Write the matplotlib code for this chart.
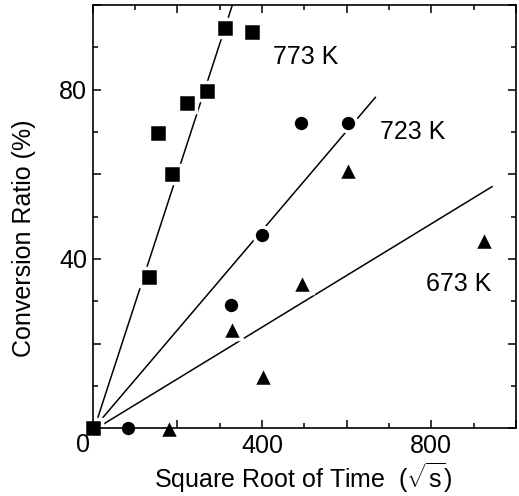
import numpy as np
import matplotlib
matplotlib.use("Agg")
import matplotlib.pyplot as plt
from matplotlib.ticker import MultipleLocator

plt.rcParams['font.family'] = ['Liberation Sans', 'DejaVu Sans']
plt.rcParams['mathtext.fontset'] = 'custom'
plt.rcParams['mathtext.rm'] = 'Liberation Sans'
plt.rcParams['mathtext.it'] = 'Liberation Sans'
plt.rcParams['mathtext.bf'] = 'Liberation Sans'

# ---- data (sqrt of time in sqrt(s), conversion ratio in %) ----
x_773 = [0, 132, 155, 188, 222, 270, 313, 376]
y_773 = [0, 35.8, 69.7, 60.1, 76.8, 79.8, 94.5, 93.7]

x_723 = [84, 327, 399, 492, 603]
y_723 = [0, 29.1, 45.7, 72.2, 72.2]

x_673 = [180, 328, 403, 494, 604, 925]
y_673 = [0, 23.5, 12.4, 34.3, 61.0, 44.6]

# fitted straight lines: slope, intercept, x range
fit_slope = [0.3067, 0.1175, 0.0611]
fit_icept = [-1.2, -0.29, -0.56]
fit_xstart = [0, 0, 0]
fit_xend = [340, 669, 945]

temps = ["773 K", "723 K", "673 K"]
temp_label_x = [504, 755, 864]
temp_label_y = [87.7, 70.0, 34.1]

xtick_labels = [400, 800]
ytick_labels = [40, 80]

FS = 18

fig = plt.figure(figsize=(5.19, 4.96), dpi=100)
ax = fig.add_axes([0.1786, 0.1365, 0.8156, 0.8534])
ax.set_xlim(0, 1000)
ax.set_ylim(0, 100)

# lines
for s, b, x0, x1 in zip(fit_slope, fit_icept, fit_xstart, fit_xend):
    xs = np.array([x0, x1], dtype=float)
    ax.plot(xs, s * xs + b, color='black', lw=1.1, zorder=1.5, solid_capstyle='butt')

E = 2.5
common = dict(linestyle='none', color='black', markeredgecolor='white',
              markeredgewidth=E, clip_on=False, zorder=2)
ax.plot(x_773, y_773, marker='s', markersize=12.6, **common)
ax.plot(x_723, y_723, marker='o', markersize=12.1, **common)
ax.plot(x_673, y_673, marker='^', markersize=13.7, **common)

for t, tx, ty in zip(temps, temp_label_x, temp_label_y):
    ax.text(tx, ty, t, ha='center', va='center', fontsize=FS)

# ticks
ax.xaxis.set_major_locator(MultipleLocator(200))
ax.xaxis.set_minor_locator(MultipleLocator(100))
ax.yaxis.set_major_locator(MultipleLocator(20))
ax.yaxis.set_minor_locator(MultipleLocator(10))
ax.xaxis.set_major_formatter(plt.FuncFormatter(lambda v, p: f"{int(v)}" if int(round(v)) in xtick_labels else ""))
ax.yaxis.set_major_formatter(plt.FuncFormatter(lambda v, p: f"{int(v)}" if int(round(v)) in ytick_labels else ""))
ax.tick_params(which='both', direction='in', top=True, right=True, width=1.1,
               labelsize=FS, pad=4)
ax.tick_params(which='major', length=5.8)
ax.tick_params(which='minor', length=3.4)
for sp in ax.spines.values():
    sp.set_linewidth(1.2)

# corner zero label
ax.annotate("0", xy=(0, 0), xycoords='data', xytext=(-7, -12),
            textcoords='offset points', ha='center', va='center', fontsize=FS)

ax.text(0.497, -0.141, r"Square Root of Time  $(\sqrt{\mathrm{s}})$",
        transform=ax.transAxes, ha='center', va='baseline', fontsize=FS)
ax.text(-0.162, 0.45, "Conversion Ratio (%)", transform=ax.transAxes,
        ha='center', va='center', rotation=90, fontsize=FS)

fig.savefig("out.png", dpi=100)
